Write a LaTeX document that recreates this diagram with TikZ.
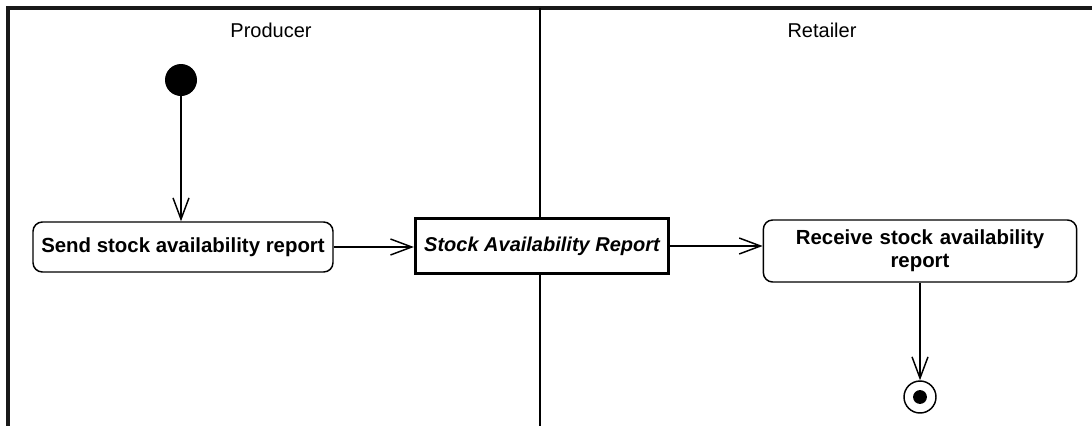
\documentclass[tikz,border=0pt]{standalone}
\usepackage{fontspec}
\setmainfont{Liberation Sans}
\usepackage{tikz}
\usetikzlibrary{shapes.geometric, arrows.meta}

\begin{document}
\begin{tikzpicture}[x=0.75pt, y=-0.75pt, font=\fontsize{15}{17}\selectfont]
\tikzstyle{lane} = [line width=2.4pt, draw=black!90]
\tikzstyle{divider} = [line width=1.1pt, draw=black]
\tikzstyle{title} = [text=black]
\tikzstyle{initial} = [circle, fill=black, minimum size=24pt, inner sep=0pt]
\tikzstyle{final} = [circle, draw=black, line width=1.1pt, minimum size=24pt, inner sep=0pt, path picture={\fill (path picture bounding box.center) circle (5.2pt);}]
\tikzstyle{action} = [rectangle, rounded corners=7pt, draw=black, line width=1.1pt, fill=white, text centered, font=\fontsize{15.3}{17}\selectfont\bfseries]
\tikzstyle{object} = [rectangle, draw=black, line width=2.2pt, fill=white, minimum width=190pt, minimum height=41pt, font=\fontsize{15}{17}\selectfont\bfseries\itshape]
\tikzstyle{arrow} = [line width=1.1pt, -{Straight Barb[length=16pt, width=12pt]}]

\useasboundingbox (0,0) rectangle (1092,426);

% swimlanes
\draw [lane] (1092,8) -- (8,8) -- (8,426);
\draw [divider] (540,8) -- (540,426);
\node (producer) [title] at (271,30) {Producer};
\node (retailer) [title] at (822,30) {Retailer};

\node (start) [initial] at (181,80) {};
\node (send) [action, minimum width=225pt, minimum height=37.5pt] at (183,247) {Send stock availability report};
\node (report) [object] at (542,246) {Stock Availability Report};
\node (receive) [action, text width=215pt, inner xsep=10pt, minimum height=46.5pt, align=center] at (920,251) {Receive stock availability\\report};
\node (end) [final] at (920,397) {};

\draw [arrow] (start) -- (start |- send.north);
\draw [arrow] (send.east) -- (send.east -| report.west);
\draw [arrow] (report.east) -- (report.east -| receive.west);
\draw [arrow] (receive) -- (end);
\end{tikzpicture}
\end{document}
